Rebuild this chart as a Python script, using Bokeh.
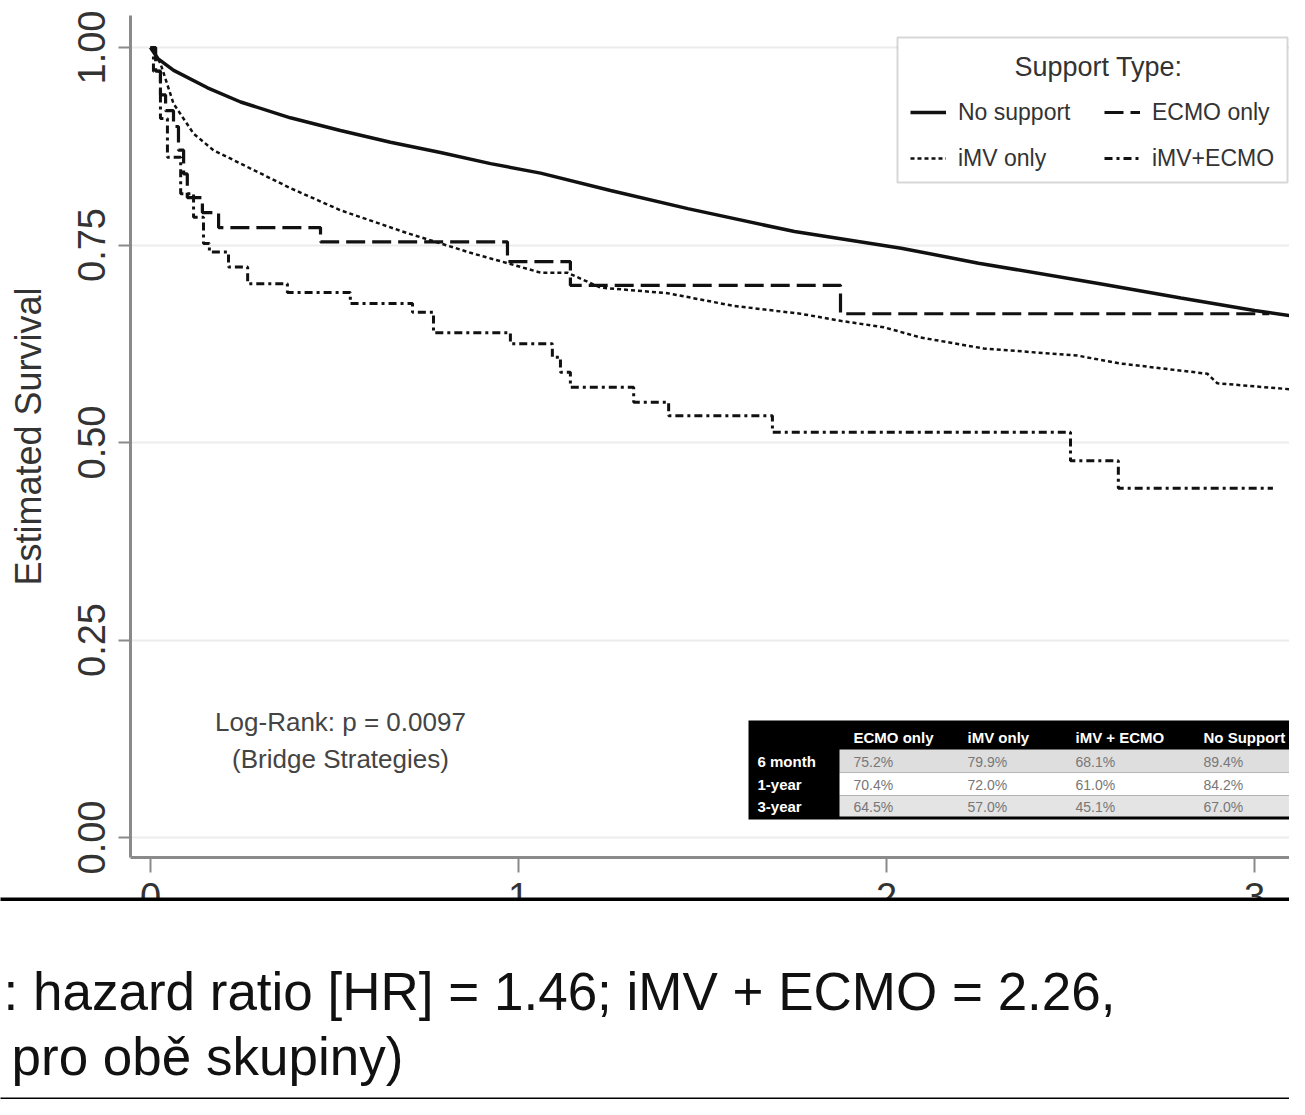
import math
from bokeh.plotting import figure
from bokeh.models import (Range1d, FixedTicker, Legend, LegendItem, Label,
                          BoxAnnotation)
from bokeh.core.properties import value
from bokeh.embed import file_html
from bokeh.resources import INLINE

# ---------------- data ----------------
x_ticks = [0, 1, 2, 3]
x_tick_labels = ["0", "1", "2", "3"]
y_ticks = [0.0, 0.25, 0.5, 0.75, 1.0]
y_tick_labels = ["0.00", "0.25", "0.50", "0.75", "1.00"]

# No support (smooth curve)
nosup_t = [0, 0.02, 0.063, 0.155, 0.245, 0.38, 0.516, 0.652, 0.788, 0.924, 1.06,
           1.25, 1.46, 1.75, 2.04, 2.25, 2.58, 2.8, 3.0, 3.106]
nosup_s = [1.0, 0.986, 0.971, 0.949, 0.931, 0.911, 0.895, 0.880, 0.867, 0.853, 0.841,
           0.819, 0.796, 0.767, 0.746, 0.727, 0.701, 0.683, 0.667, 0.660]

# ECMO only (step)
ecmo_t = [0, 0.014, 0.027, 0.041, 0.0625, 0.076, 0.09, 0.10, 0.141, 0.185, 0.462,
          0.970, 1.141, 1.875, 3.04]
ecmo_s = [1.0, 0.97, 0.94, 0.92, 0.90, 0.87, 0.84, 0.81, 0.791, 0.772, 0.754,
          0.729, 0.699, 0.663, 0.663]

# iMV only
imv_t = [0, 0.027, 0.0625, 0.117, 0.171, 0.245, 0.380, 0.516, 0.698, 0.878, 0.970,
         1.060, 1.133, 1.223, 1.405, 1.584, 1.766, 1.875, 1.992, 2.092, 2.264, 2.519,
         2.636, 2.872, 2.899, 3.106]
imv_s = [1.0, 0.980, 0.929, 0.891, 0.870, 0.853, 0.822, 0.794, 0.765, 0.739, 0.727,
         0.715, 0.715, 0.696, 0.689, 0.673, 0.663, 0.654, 0.646, 0.633, 0.619, 0.610,
         0.600, 0.587, 0.575, 0.567]

# iMV + ECMO (step)
imvecmo_t = [0, 0.008, 0.027, 0.046, 0.082, 0.117, 0.144, 0.16, 0.212, 0.264, 0.372,
             0.543, 0.712, 0.769, 0.978, 1.092, 1.114, 1.141, 1.313, 1.408, 1.690,
             2.5, 2.63, 3.05]
imvecmo_s = [1.0, 0.97, 0.91, 0.861, 0.815, 0.785, 0.752, 0.741, 0.722, 0.701, 0.690,
             0.676, 0.665, 0.639, 0.625, 0.608, 0.589, 0.570, 0.551, 0.534, 0.513,
             0.477, 0.442, 0.442]

# inset table
table_cols = ["ECMO only", "iMV only", "iMV + ECMO", "No Support"]
table_rows = ["6 month", "1-year", "3-year"]
ecmo_pct = ["75.2%", "70.4%", "64.5%"]
imv_pct = ["79.9%", "72.0%", "57.0%"]
imvecmo_pct = ["68.1%", "61.0%", "45.1%"]
nosup_pct = ["89.4%", "84.2%", "67.0%"]

# numbers at risk (partially visible row)
risk_counts = ["119", "42", "23", "11"]

# ---------------- layout helpers (reference pixel -> data) ----------------
X0, XS = 150.0, 368.0     # pixel of t=0, pixels per year
Y0, YS = 837.0, 790.0     # pixel of s=0, pixels per unit survival
W, H = 1289, 1099


def tx(px):
    return (px - X0) / XS


def sy(py):
    return (Y0 - py) / YS


FONT = "Liberation Sans"
TXT = "#333333"
AX = "#8a8a8a"

p = figure(width=W, height=H, output_backend="svg", toolbar_location=None,
           x_range=Range1d(tx(0), tx(W)), y_range=Range1d(sy(H), sy(0)),
           min_border=0)
p.outline_line_color = None
p.background_fill_color = "white"
p.border_fill_color = "white"

# axes drawn at fixed positions inside the canvas
p.xaxis.fixed_location = sy(857)
p.yaxis.fixed_location = tx(130)
p.xaxis.bounds = (tx(130), tx(W))
p.yaxis.bounds = (sy(857), sy(15))
p.xaxis.ticker = FixedTicker(ticks=x_ticks)
p.xaxis.major_label_overrides = {t: l for t, l in zip(x_ticks, x_tick_labels)}
p.yaxis.ticker = FixedTicker(ticks=y_ticks)
p.yaxis.major_label_overrides = {t: l for t, l in zip(y_ticks, y_tick_labels)}
for ax in (p.xaxis[0], p.yaxis[0]):
    ax.axis_line_color = AX
    ax.axis_line_width = 3
    ax.major_tick_line_color = AX
    ax.major_tick_line_width = 2
    ax.minor_tick_line_color = None
    ax.major_tick_in = 0
    ax.major_label_text_font = FONT
    ax.major_label_text_font_size = "38px"
    ax.major_label_text_color = TXT
p.xaxis.major_tick_out = 15
p.xaxis.major_label_standoff = 10
p.yaxis.major_tick_out = 12
p.yaxis.major_label_standoff = 14
p.yaxis.major_label_orientation = "vertical"
p.yaxis.axis_label = "Estimated Survival"
p.yaxis.axis_label_text_font = FONT
p.yaxis.axis_label_text_font_size = "36px"
p.yaxis.axis_label_text_font_style = "normal"
p.yaxis.axis_label_text_color = TXT
p.yaxis.axis_label_standoff = 26

p.xgrid.grid_line_color = None
p.ygrid.ticker = FixedTicker(ticks=y_ticks)
p.ygrid.grid_line_color = "#ececec"
p.ygrid.grid_line_width = 2
# keep grid lines out of the label margin left of the y axis
p.add_layout(BoxAnnotation(left=tx(-5), right=tx(128), top=sy(-5), bottom=sy(900),
                           fill_color="white", fill_alpha=1.0, line_alpha=0,
                           level="underlay"))

# curves
r_nosup = p.line(nosup_t, nosup_s, line_color="#111111", line_width=3.5)
r_ecmo = p.step(ecmo_t, ecmo_s, mode="after", line_color="#111111", line_width=3.2,
                line_dash="19 7")
r_imv = p.line(imv_t, imv_s, line_color="#111111", line_width=2.5, line_dash="4 3")
r_imvecmo = p.step(imvecmo_t, imvecmo_s, mode="after", line_color="#111111",
                   line_width=3, line_dash="8 4 3 4")

# legend frame + title
p.add_layout(BoxAnnotation(left=tx(897), right=tx(1287), top=sy(37), bottom=sy(182),
                           fill_color="white", fill_alpha=1.0, line_color="#7a7a7a",
                           line_width=2, level="underlay"))
p.add_layout(Label(x=tx(1098), y=sy(66), text="Support Type:", text_align="center",
                   text_baseline="middle", text_font=FONT, text_font_size="27px",
                   text_color=TXT))


def make_legend(items, left_px):
    return Legend(items=items, location=(left_px, H - 173),
                  border_line_alpha=0, background_fill_alpha=0, padding=0, margin=0,
                  spacing=16, glyph_width=36, glyph_height=30, label_height=30,
                  label_standoff=12, label_text_font=FONT, label_text_font_size="23px",
                  label_text_color=TXT)


p.add_layout(make_legend([LegendItem(label="No support", renderers=[r_nosup]),
                          LegendItem(label="iMV only", renderers=[r_imv])], 910))
p.add_layout(make_legend([LegendItem(label="ECMO only", renderers=[r_ecmo]),
                          LegendItem(label="iMV+ECMO", renderers=[r_imvecmo])], 1104))

# log-rank annotation
for txt, ypx in (("Log-Rank: p = 0.0097", 721), ("(Bridge Strategies)", 758)):
    p.add_layout(Label(x=tx(340), y=sy(ypx), text=txt, text_align="center",
                       text_baseline="middle", text_font=FONT,
                       text_font_size="26px", text_color="#444444"))

# inset table
p.quad(left=[tx(748)], right=[tx(1320)], top=[sy(720)], bottom=[sy(819)],
       fill_color="black", line_color=None)
row_top_px = [749, 772, 795]
row_bot_px = [772, 795, 816]
row_fill = ["#dedede", "#ffffff", "#e4e4e4"]
p.quad(left=[tx(839)] * 3, right=[tx(1320)] * 3, top=[sy(v) for v in row_top_px],
       bottom=[sy(v) for v in row_bot_px], fill_color=row_fill, line_color=None)

col_left_px = [853, 967, 1075, 1203]
row_mid_px = [761, 784, 806]
p.text(x=[tx(v) for v in col_left_px], y=[sy(737)] * 4, text=table_cols,
       text_font=value(FONT), text_font_size="15px", text_font_style="bold",
       text_color="white", text_baseline="middle", text_align="left")
p.text(x=[tx(757)] * 3, y=[sy(v) for v in row_mid_px], text=table_rows,
       text_font=value(FONT), text_font_size="15px", text_font_style="bold",
       text_color="white", text_baseline="middle", text_align="left")
for cx, vals in zip(col_left_px, (ecmo_pct, imv_pct, imvecmo_pct, nosup_pct)):
    p.text(x=[tx(cx)] * 3, y=[sy(v) for v in row_mid_px], text=vals,
           text_font=value(FONT), text_font_size="14px", text_color="#777777",
           text_baseline="middle", text_align="left")

# ---------------- caption strip below the chart ----------------
p.add_layout(BoxAnnotation(left=tx(-5), right=tx(1320), top=sy(900), bottom=sy(1130),
                           fill_color="white", fill_alpha=1.0, line_alpha=0,
                           level="overlay"))
for i, cnt in enumerate(risk_counts):
    p.add_layout(Label(x=x_ticks[i] - 0.012, y=sy(1111), text=cnt, text_align="center",
                       text_baseline="middle", text_font=FONT,
                       text_font_size="26px", text_color="#444444", level="overlay"))
p.add_layout(Label(x=tx(62), y=sy(1111), text="ECMO", text_align="right",
                   text_baseline="middle", text_font=FONT, text_font_size="26px",
                   text_color="#444444", level="overlay"))
for top_px in (897, 1097):
    p.add_layout(BoxAnnotation(left=tx(-5), right=tx(1320), top=sy(top_px),
                               bottom=sy(top_px + 3.5), fill_color="black",
                               fill_alpha=1.0, line_alpha=0, level="overlay"))
p.add_layout(Label(x=tx(3), y=sy(991), text=": hazard ratio [HR] = 1.46; iMV + ECMO = 2.26,",
                   text_baseline="middle", text_font=FONT, text_font_size="53px",
                   text_color="#111111", level="overlay"))
p.add_layout(Label(x=tx(11), y=sy(1056), text="pro obě skupiny)",
                   text_baseline="middle", text_font=FONT, text_font_size="53px",
                   text_color="#111111", level="overlay"))

open("out.html", "w").write(file_html(p, INLINE))
